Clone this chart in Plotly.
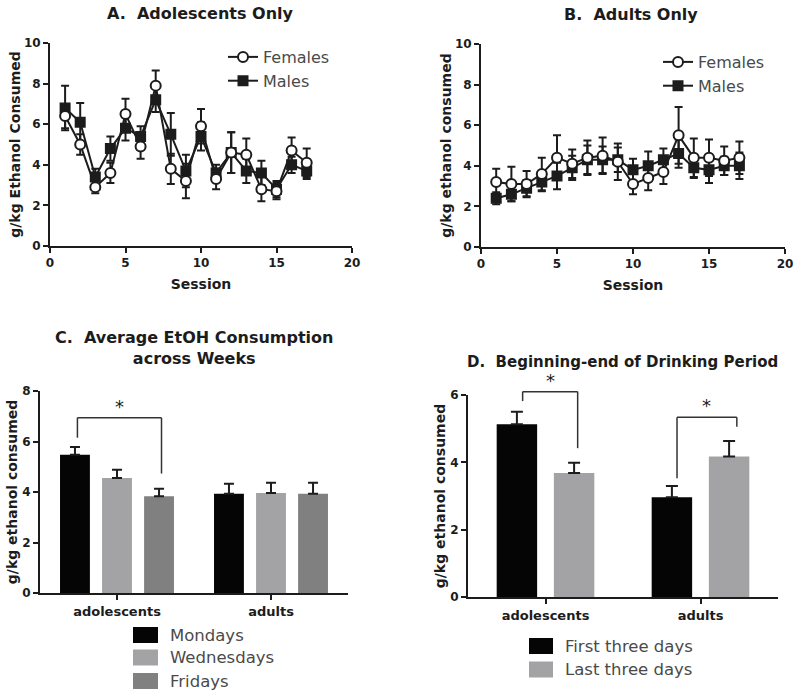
import plotly.graph_objects as go

# ---------------- data ----------------
sessions = list(range(1, 18))

adol_f = [6.4, 5.0, 2.9, 3.6, 6.5, 4.9, 7.9, 3.8, 3.2, 5.9, 3.3, 4.6, 4.5, 2.8, 2.7, 4.7, 4.1]
adol_f_err = [0.6, 0.5, 0.3, 0.5, 0.75, 0.6, 0.75, 0.75, 0.85, 0.85, 0.5, 1.0, 0.8, 0.6, 0.4, 0.65, 0.7]
adol_m = [6.8, 6.1, 3.4, 4.8, 5.8, 5.4, 7.2, 5.5, 3.7, 5.4, 3.6, 4.6, 3.7, 3.6, 2.8, 4.0, 3.7]
adol_m_err = [1.1, 0.95, 0.4, 0.6, 0.6, 0.5, 0.6, 1.05, 0.8, 0.7, 0.4, 1.0, 0.6, 0.6, 0.4, 0.4, 0.4]

adult_f = [3.2, 3.1, 3.1, 3.6, 4.4, 4.1, 4.4, 4.5, 4.2, 3.1, 3.4, 3.7, 5.5, 4.4, 4.4, 4.25, 4.4]
adult_f_err = [0.65, 0.85, 0.65, 0.8, 1.1, 0.7, 0.85, 0.9, 0.9, 0.5, 0.6, 0.6, 1.4, 0.95, 0.9, 0.7, 0.8]
adult_m = [2.4, 2.6, 2.9, 3.2, 3.5, 3.9, 4.3, 4.3, 4.3, 3.8, 4.0, 4.3, 4.6, 3.9, 3.8, 4.0, 4.0]
adult_m_err = [0.3, 0.35, 0.4, 0.45, 0.65, 0.6, 0.7, 0.65, 0.6, 0.55, 0.7, 0.55, 0.7, 0.5, 0.65, 0.45, 0.65]

groups = ["adolescents", "adults"]
week_days = ["Mondays", "Wednesdays", "Fridays"]
mondays = [5.48, 3.93]
mondays_err = [0.30, 0.40]
wednesdays = [4.55, 3.96]
wednesdays_err = [0.33, 0.41]
fridays = [3.83, 3.93]
fridays_err = [0.30, 0.44]

period_names = ["First three days", "Last three days"]
first_three = [5.13, 2.96]
first_three_err = [0.37, 0.34]
last_three = [3.68, 4.17]
last_three_err = [0.31, 0.46]

# ---------------- style ----------------
W, H = 800, 695
INK = "#1c1c1c"
LEG_INK = "#4a4a4a"
FAM = "DejaVu Sans, sans-serif"
C_COLORS = ["#050505", "#a3a3a6", "#808080"]
D_COLORS = ["#050505", "#a3a3a6"]


def bold(size, color=INK):
    return dict(family=FAM, size=size, color=color, weight="bold")


def fx(px):
    return px / W


def fy(py):
    return 1 - py / H


dom = {
    "A": ([fx(50), fx(352)], [fy(246), fy(43)]),
    "B": ([fx(481), fx(785)], [fy(247), fy(44)]),
    "C": ([fx(40), fx(348)], [fy(593), fy(391)]),
    "D": ([fx(468), fx(778)], [fy(597), fy(395)]),
}

fig = go.Figure()


def line_trace(x, y, err, name, symbol, fill, size, xa, ya, legend, rank):
    return go.Scatter(
        x=x, y=y, name=name, mode="lines+markers",
        line=dict(color=INK, width=2),
        marker=dict(symbol=symbol, size=size, color=fill, line=dict(color=INK, width=2)),
        error_y=dict(type="data", array=err, color=INK, thickness=2, width=4),
        xaxis=xa, yaxis=ya, legend=legend, legendrank=rank,
    )


# Panel A
fig.add_trace(line_trace(sessions, adol_m, adol_m_err, "Males", "square", INK, 9, "x", "y", "legend", 2))
fig.add_trace(line_trace(sessions, adol_f, adol_f_err, "Females", "circle", "white", 10, "x", "y", "legend", 1))
# Panel B
fig.add_trace(line_trace(sessions, adult_m, adult_m_err, "Males", "square", INK, 9, "x2", "y2", "legend2", 2))
fig.add_trace(line_trace(sessions, adult_f, adult_f_err, "Females", "circle", "white", 10, "x2", "y2", "legend2", 1))

# Panel C bars
c_slot, c_width = 0.273, 0.194
for i, (vals, errs) in enumerate([(mondays, mondays_err), (wednesdays, wednesdays_err), (fridays, fridays_err)]):
    fig.add_trace(go.Bar(
        x=groups, y=vals, name=week_days[i], showlegend=False,
        marker=dict(color=C_COLORS[i], line=dict(width=0)),
        width=c_width, offset=(i - 1) * c_slot - c_width / 2,
        error_y=dict(type="data", array=errs, arrayminus=[0] * len(errs), symmetric=False,
                     color=INK, thickness=2, width=5),
        xaxis="x3", yaxis="y3",
    ))

# Panel D bars
d_slot, d_width = 0.369, 0.261
for i, (vals, errs) in enumerate([(first_three, first_three_err), (last_three, last_three_err)]):
    fig.add_trace(go.Bar(
        x=groups, y=vals, name=period_names[i], showlegend=False,
        marker=dict(color=D_COLORS[i], line=dict(width=0)),
        width=d_width, offset=(i - 0.5) * d_slot - d_width / 2,
        error_y=dict(type="data", array=errs, arrayminus=[0] * len(errs), symmetric=False,
                     color=INK, thickness=2, width=6),
        xaxis="x4", yaxis="y4",
    ))

axis_common = dict(
    showline=True, linewidth=2, linecolor=INK, ticks="outside", ticklen=5, tickwidth=2,
    tickcolor=INK, showgrid=False, zeroline=False, automargin=False,
)
tick_num = bold(12)
tick_cat = bold(13)
title_font = bold(14)

layout = dict(
    width=W, height=H, margin=dict(l=0, r=0, t=0, b=0),
    paper_bgcolor="white", plot_bgcolor="white", showlegend=True,
    xaxis=dict(domain=dom["A"][0], anchor="y", range=[0, 20], tickvals=[0, 5, 10, 15, 20], tickfont=tick_num,
               title=dict(text="Session", font=title_font, standoff=10), **axis_common),
    yaxis=dict(domain=dom["A"][1], anchor="x", range=[0, 10], tickvals=[0, 2, 4, 6, 8, 10], tickfont=tick_num,
               title=dict(text="g/kg Ethanol Consumed", font=title_font, standoff=0), **axis_common),
    xaxis2=dict(domain=dom["B"][0], anchor="y2", range=[0, 20], tickvals=[0, 5, 10, 15, 20], tickfont=tick_num,
                title=dict(text="Session", font=title_font, standoff=10), **axis_common),
    yaxis2=dict(domain=dom["B"][1], anchor="x2", range=[0, 10], tickvals=[0, 2, 4, 6, 8, 10], tickfont=tick_num,
                title=dict(text="g/kg ethanol consumed", font=title_font, standoff=0), **axis_common),
    xaxis3=dict(domain=dom["C"][0], anchor="y3", type="category", range=[-0.5, 1.5], tickfont=tick_cat,
                **axis_common),
    yaxis3=dict(domain=dom["C"][1], anchor="x3", range=[0, 8], tickvals=[0, 2, 4, 6, 8], tickfont=tick_num,
                title=dict(text="g/kg ethanol consumed", font=title_font, standoff=1), **axis_common),
    xaxis4=dict(domain=dom["D"][0], anchor="y4", type="category", range=[-0.5, 1.5], tickfont=tick_cat,
                **axis_common),
    yaxis4=dict(domain=dom["D"][1], anchor="x4", range=[0, 6], tickvals=[0, 2, 4, 6], tickfont=tick_num,
                title=dict(text="g/kg ethanol consumed", font=title_font, standoff=1), **axis_common),
    legend=dict(x=fx(223), y=fy(40), xanchor="left", yanchor="top", bgcolor="rgba(0,0,0,0)",
                font=dict(family=FAM, size=16, color=LEG_INK), itemwidth=30, tracegroupgap=0),
    legend2=dict(x=fx(658), y=fy(45), xanchor="left", yanchor="top", bgcolor="rgba(0,0,0,0)",
                 font=dict(family=FAM, size=16, color=LEG_INK), itemwidth=30, tracegroupgap=0),
)
fig.update_layout(**layout)

# ---------------- titles ----------------
titles = [
    ("A.  Adolescents Only", 200, 14, 16),
    ("B.  Adults Only", 631, 15, 16),
    ("C.  Average EtOH Consumption<br>across Weeks", 194, 348, 16),
    ("D.  Beginning-end of Drinking Period", 622, 362, 15),
]
for text, x, y, size in titles:
    fig.add_annotation(text=text, x=fx(x), y=fy(y), xref="paper", yref="paper",
                       xanchor="center", yanchor="middle", showarrow=False,
                       font=bold(size))


# ---------------- significance brackets ----------------
def bracket(x0, x1, y0, ytop, y1, xref, yref, star_y):
    for (a, b, c, d) in [(x0, y0, x0, ytop), (x0, ytop, x1, ytop), (x1, ytop, x1, y1)]:
        fig.add_shape(type="line", x0=a, y0=b, x1=c, y1=d, xref=xref, yref=yref,
                      line=dict(color="#333333", width=1.5))
    fig.add_annotation(text="*", x=(x0 + x1) / 2, y=star_y, xref=xref, yref=yref,
                       showarrow=False, font=dict(family=FAM, size=18, color=INK),
                       xanchor="center", yanchor="bottom", borderpad=0)


# Panel C: Mondays vs Fridays in adolescents (data coords)
bracket(0 - c_slot + 0.016, 0 + c_slot + 0.016, 6.15, 6.94, 4.73, "x3", "y3", 6.94)

# Panel D: paper coords (bracket reaches above the axis range)
dx, dy = dom["D"]


def d_px(idx):
    return dx[0] + (idx + 0.5) / 2 * (dx[1] - dx[0])


def d_py(v):
    return dy[0] + v / 6 * (dy[1] - dy[0])


bracket(d_px(0 - d_slot / 2 + 0.037), d_px(0 + d_slot / 2 + 0.023),
        d_py(5.82), d_py(6.1), d_py(4.42), "paper", "paper", d_py(6.1))
bracket(d_px(1 - d_slot / 2 + 0.033), d_px(1 + d_slot / 2 + 0.05),
        d_py(3.53), d_py(5.34), d_py(5.06), "paper", "paper", d_py(5.34))


# ---------------- manual legends for bar panels ----------------
def swatch_legend(names, colors, x_px, rows_px, w_px, h_px, text_x_px):
    for name, color, ry in zip(names, colors, rows_px):
        fig.add_shape(type="rect", xref="paper", yref="paper",
                      x0=fx(x_px), x1=fx(x_px + w_px), y0=fy(ry + h_px / 2), y1=fy(ry - h_px / 2),
                      fillcolor=color, line=dict(width=0))
        fig.add_annotation(text=name, x=fx(text_x_px), y=fy(ry), xref="paper", yref="paper",
                           xanchor="left", yanchor="middle", showarrow=False,
                           font=dict(family=FAM, size=16.5, color=LEG_INK))


swatch_legend(week_days, C_COLORS, 133, [635, 657.5, 681], 25, 16, 168)
swatch_legend(period_names, D_COLORS, 529, [646, 669.5], 24, 16, 563)

fig.write_html("out.html", config={"displayModeBar": False},
               post_script="document.body.style.margin='0';")
